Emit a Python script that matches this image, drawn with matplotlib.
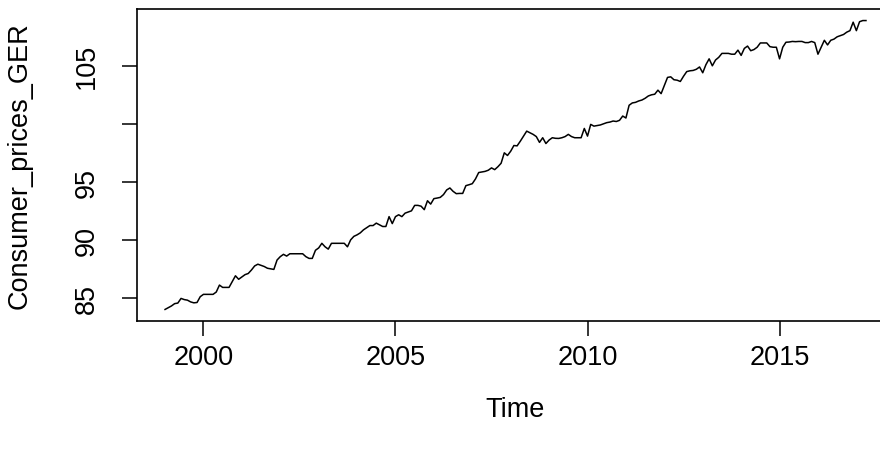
import numpy as np
import matplotlib
matplotlib.use('Agg')
import matplotlib.pyplot as plt

plt.rcParams['font.family'] = ['Liberation Sans', 'DejaVu Sans']

# Monatswerte (Jan .. Dez)
start_year = 1999
cpi_1999 = [84.0, 84.15, 84.3, 84.5, 84.55, 84.95, 84.85, 84.8, 84.65, 84.57, 84.6, 85.1]
cpi_2000 = [85.3, 85.3, 85.3, 85.3, 85.5, 86.1, 85.9, 85.9, 85.9, 86.4, 86.9, 86.6]
cpi_2001 = [86.8, 87.0, 87.1, 87.4, 87.75, 87.9, 87.8, 87.7, 87.55, 87.5, 87.45, 88.26]
cpi_2002 = [88.55, 88.75, 88.6, 88.8, 88.8, 88.8, 88.8, 88.8, 88.55, 88.4, 88.4, 89.1]
cpi_2003 = [89.3, 89.7, 89.4, 89.2, 89.7, 89.7, 89.7, 89.7, 89.7, 89.4, 90.0, 90.3]
cpi_2004 = [90.43, 90.6, 90.86, 91.05, 91.23, 91.23, 91.44, 91.3, 91.15, 91.15, 92.0, 91.4]
cpi_2005 = [92.0, 92.16, 92.0, 92.3, 92.4, 92.5, 92.97, 92.97, 92.9, 92.6, 93.37, 93.08]
cpi_2006 = [93.55, 93.6, 93.66, 93.9, 94.3, 94.47, 94.18, 93.98, 94.0, 94.0, 94.67, 94.75]
cpi_2007 = [94.84, 95.25, 95.8, 95.85, 95.9, 96.0, 96.2, 96.05, 96.3, 96.6, 97.5, 97.27]
cpi_2008 = [97.64, 98.13, 98.1, 98.5, 98.94, 99.37, 99.23, 99.09, 98.9, 98.4, 98.8, 98.3]
cpi_2009 = [98.6, 98.8, 98.75, 98.74, 98.8, 98.9, 99.09, 98.9, 98.8, 98.8, 98.8, 99.6]
cpi_2010 = [98.94, 99.95, 99.8, 99.85, 99.9, 100.0, 100.1, 100.15, 100.24, 100.2, 100.3, 100.67]
cpi_2011 = [100.5, 101.6, 101.8, 101.85, 101.97, 102.05, 102.2, 102.4, 102.5, 102.55, 102.9, 102.6]
cpi_2012 = [103.3, 104.0, 104.05, 103.8, 103.76, 103.65, 104.1, 104.5, 104.57, 104.6, 104.7, 104.9]
cpi_2013 = [104.4, 105.1, 105.6, 105.0, 105.5, 105.73, 106.07, 106.07, 106.07, 106.0, 106.0, 106.35]
cpi_2014 = [105.9, 106.5, 106.7, 106.3, 106.4, 106.6, 106.97, 106.97, 106.97, 106.65, 106.6, 106.6]
cpi_2015 = [105.6, 106.6, 107.03, 107.05, 107.1, 107.08, 107.1, 107.1, 107.0, 107.0, 107.1, 107.0]
cpi_2016 = [106.0, 106.6, 107.2, 106.8, 107.2, 107.3, 107.5, 107.6, 107.7, 107.9, 108.03, 108.76]
cpi_2017 = [108.03, 108.8, 108.9, 108.9]

series_name = 'Consumer_prices_GER'
x_title = 'Time'
x_ticks = [2000, 2005, 2010, 2015]
y_ticks = [85, 90, 95, 100, 105]
y_tick_labels = ['85', '90', '95', '', '105']  # R laesst 100 wegen Ueberlappung weg

werte = np.concatenate([cpi_1999, cpi_2000, cpi_2001, cpi_2002, cpi_2003, cpi_2004,
                        cpi_2005, cpi_2006, cpi_2007, cpi_2008, cpi_2009, cpi_2010,
                        cpi_2011, cpi_2012, cpi_2013, cpi_2014, cpi_2015, cpi_2016,
                        cpi_2017])
zeit = start_year + np.arange(len(werte)) / 12

W, H = 880, 452
fig = plt.figure(figsize=(W / 100, H / 100), dpi=100)
# rechter Rand liegt ausserhalb des Bildes (Originalbild ist abgeschnitten)
ax = fig.add_axes([137 / W, (H - 322) / H, (894 - 137) / W, (322 - 10) / H])

ax.plot(zeit, werte, color='black', lw=1.1)

# R: 4 % Rand auf beiden Achsen
dx = 0.04 * (zeit[-1] - zeit[0])
dy = 0.04 * (werte.max() - werte.min())
ax.set_xlim(zeit[0] - dx, zeit[-1] + dx)
ax.set_ylim(werte.min() - dy, werte.max() + dy)

fs = 19.5
ax.set_xticks(x_ticks)
ax.set_xticklabels([str(v) for v in x_ticks], fontsize=fs)
ax.set_yticks(y_ticks)
ax.set_yticklabels(y_tick_labels, fontsize=fs, rotation=90, va='center')
ax.tick_params(axis='both', length=10.8, width=1.1, color='black')
ax.tick_params(axis='x', pad=6)
ax.tick_params(axis='y', pad=16)
for s in ax.spines.values():
    s.set_linewidth(1.2)

ax_mitte = (137 + 894) / 2 / W
fig.text(ax_mitte, 1 - 410 / H, x_title, fontsize=fs, ha='center', va='center')
fig.text(20 / W, 1 - 166 / H, series_name, fontsize=fs, rotation=90,
         ha='center', va='center')

plt.savefig('out.png', dpi=100)
